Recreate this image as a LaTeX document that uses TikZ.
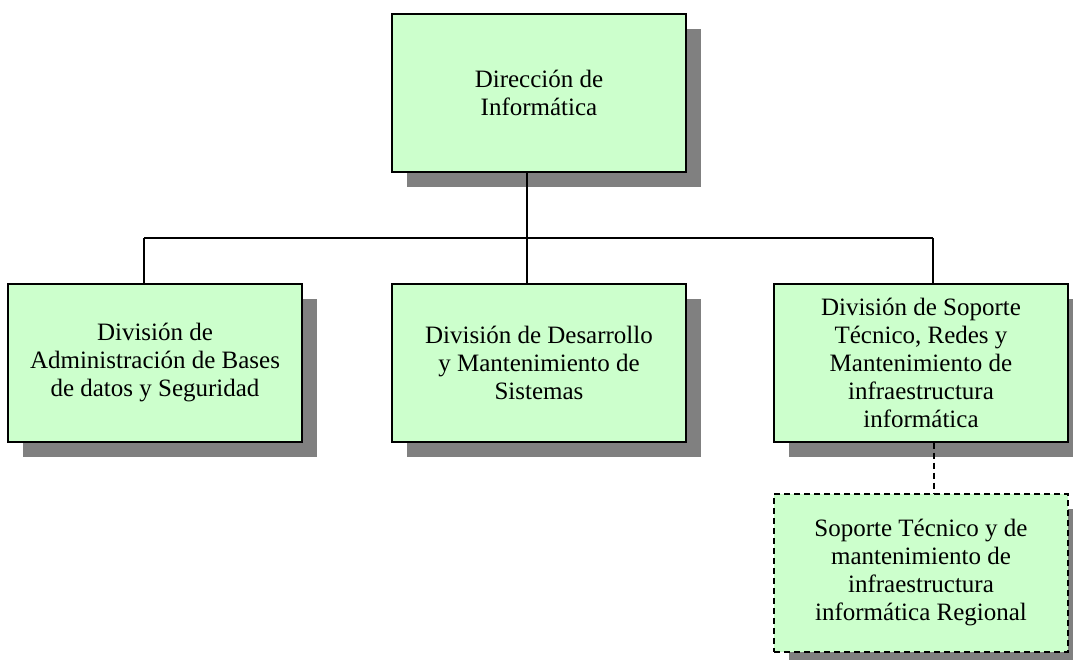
\documentclass[tikz,border=0pt]{standalone}
\usepackage{fontspec}
\setmainfont{Liberation Serif}
\usetikzlibrary{shadows}
\definecolor{boxgreen}{HTML}{CCFFCC}
\definecolor{shadowgray}{HTML}{808080}
\tikzset{
    unit/.style={draw, line width=1.3pt, fill=boxgreen, minimum width=294pt, minimum height=158pt,
        align=center, font=\fontsize{25}{28}\selectfont, inner sep=0pt,
        drop shadow={shadow xshift=15pt, shadow yshift=-15pt, fill=shadowgray, opacity=1}},
    link/.style={line width=1.3pt}
}
\begin{document}
\begin{tikzpicture}[x=1pt,y=-1pt]
    \useasboundingbox (0,0) rectangle (1073,660);
    %Direction
    \node[unit] (dir) at (539,93) {Dirección de\\Informática};
    %Divisions
    \node[unit] (dbs) at (155,363) {División de\\Administración de Bases\\de datos y Seguridad};
    \node[unit] (dev) at (539,363) {División de Desarrollo\\y Mantenimiento de\\Sistemas};
    \node[unit] (sop) at (921,363) {División de Soporte\\Técnico, Redes y\\Mantenimiento de\\infraestructura\\informática};
    %Regional
    \node[unit, dash pattern=on 6pt off 4pt] (reg) at (921,573) {Soporte Técnico y de\\mantenimiento de\\infraestructura\\informática Regional};
    %Lines
    \coordinate (bus) at (527,238);
    \coordinate (busl) at (144,238);
    \coordinate (busr) at (933,238);
    \draw[link] (bus |- dir.south) -- (bus);
    \draw[link] (busl) -- (busr);
    \draw[link] (busl) -- (busl |- dbs.north);
    \draw[link] (bus) -- (bus |- dev.north);
    \draw[link] (busr) -- (busr |- sop.north);
    %Dashed link
    \coordinate (sub) at (934,442);
    \draw[link, dash pattern=on 6pt off 4pt] (sub |- sop.south) -- (sub |- reg.north);
\end{tikzpicture}
\end{document}
